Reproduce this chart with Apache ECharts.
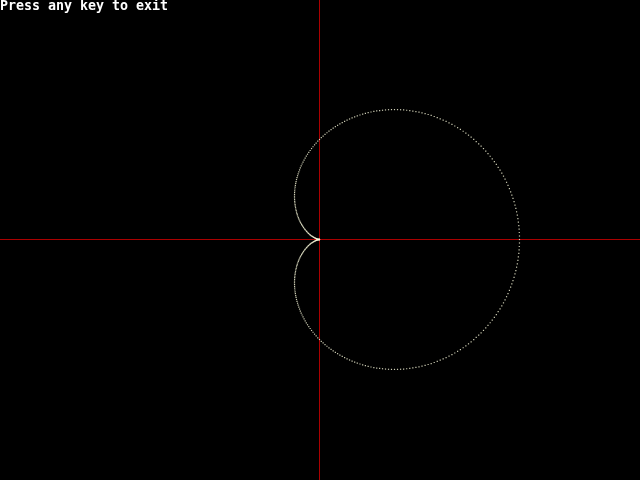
<!DOCTYPE html>
<html>
<head>
<meta charset="utf-8">
<script src="https://cdn.jsdelivr.net/npm/echarts@6/dist/echarts.min.js"></script>
<style>html,body{margin:0;padding:0;background:#000;}#c{width:640px;height:480px;}</style>
</head>
<body>
<div id="c"></div>
<script>
// Cardioid radii, one per degree from 0 to 180 (curve is symmetric about the x axis)
var radiiDeg0to180 = [
200.0,200.0,199.9,199.9,199.8,199.6,199.5,199.3,199.0,198.8,
198.5,198.2,197.8,197.4,197.0,196.6,196.1,195.6,195.1,194.6,
194.0,193.4,192.7,192.1,191.4,190.6,189.9,189.1,188.3,187.5,
186.6,185.7,184.8,183.9,182.9,181.9,180.9,179.9,178.8,177.7,
176.6,175.5,174.3,173.1,171.9,170.7,169.5,168.2,166.9,165.6,
164.3,162.9,161.6,160.2,158.8,157.4,155.9,154.5,153.0,151.5,
150.0,148.5,147.0,145.4,143.8,142.3,140.7,139.1,137.5,135.8,
134.2,132.6,130.9,129.2,127.6,125.9,124.2,122.5,120.8,119.1,
117.4,115.6,113.9,112.2,110.5,108.7,107.0,105.2,103.5,101.8,
100.0,98.3,96.5,94.8,93.0,91.3,89.5,87.8,86.1,84.4,
82.6,80.9,79.2,77.5,75.8,74.1,72.4,70.8,69.1,67.4,
65.8,64.2,62.5,60.9,59.3,57.7,56.2,54.6,53.1,51.5,
50.0,48.5,47.0,45.5,44.1,42.6,41.2,39.8,38.4,37.1,
35.7,34.4,33.1,31.8,30.5,29.3,28.1,26.9,25.7,24.5,
23.4,22.3,21.2,20.1,19.1,18.1,17.1,16.1,15.2,14.3,
13.4,12.5,11.7,10.9,10.1,9.4,8.6,7.9,7.3,6.6,
6.0,5.4,4.9,4.4,3.9,3.4,3.0,2.6,2.2,1.8,
1.5,1.2,1.0,0.7,0.5,0.4,0.2,0.1,0.1,0.0,
0.0
];
var titleText = "Press any key to exit";

// Convert the polar readings (radius, degree) to x/y pairs; lower half mirrors the upper half
var points = [];
function addPoint(r, deg) {
  var a = deg * Math.PI / 180;
  points.push([r * Math.cos(a), r * Math.sin(a)]);
}
for (var d = 0; d <= 180; d++) addPoint(radiiDeg0to180[d], d);
for (var d2 = 181; d2 < 360; d2++) addPoint(radiiDeg0to180[360 - d2], d2);

var chart = echarts.init(document.getElementById('c'), null, {renderer: 'canvas'});
chart.setOption({
  backgroundColor: '#000000',
  animation: false,
  title: {
    text: titleText, left: 0, top: 0, padding: [0, 0, 0, 0],
    textStyle: {color: '#ffffff', fontFamily: 'DejaVu Sans Mono', fontWeight: 'bold', fontSize: 13.3}
  },
  grid: {left: 0, right: 0, top: 0, bottom: 0, show: false},
  xAxis: {
    type: 'value', min: -319.5, max: 320.5,
    axisLine: {show: true, onZero: true, lineStyle: {color: '#aa0000', width: 1}},
    axisTick: {show: false}, axisLabel: {show: false}, splitLine: {show: false}
  },
  yAxis: {
    type: 'value', min: -240.5, max: 239.5,
    axisLine: {show: true, onZero: true, lineStyle: {color: '#aa0000', width: 1}},
    axisTick: {show: false}, axisLabel: {show: false}, splitLine: {show: false}
  },
  series: [{
    type: 'scatter', data: points, z: 3,
    symbol: 'rect', symbolSize: 1.2,
    itemStyle: {color: '#ffffe0'},
    silent: true
  }]
});
</script>
</body>
</html>
